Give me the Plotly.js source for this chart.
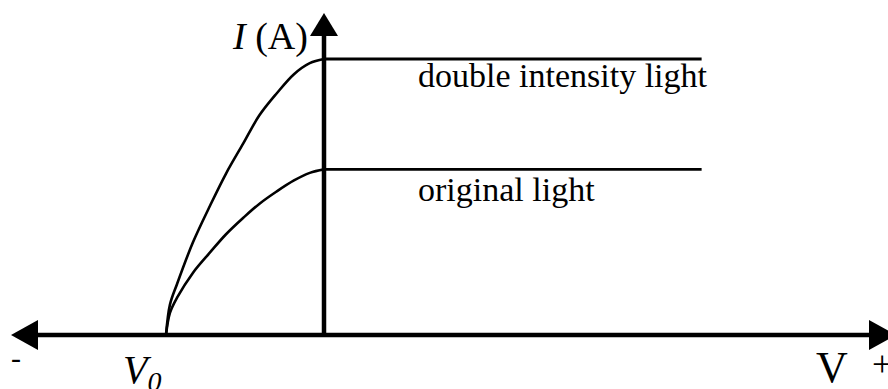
<!DOCTYPE html>
<html>
<head>
<meta charset="utf-8">
<script src="https://cdn.plot.ly/plotly-3.0.1.min.js"></script>
<style>
  html, body { margin: 0; padding: 0; background: #ffffff; }
  #chart { width: 888px; height: 389px; }
</style>
</head>
<body>
<div id="chart"></div>
<script>
// Photocurrent I versus applied voltage V for two light intensities.
// V in units of the stopping potential (V0 = -1), I in arbitrary units.
const vRise = [-1, -0.975, -0.93, -0.83, -0.72, -0.62, -0.51, -0.41, -0.30, -0.19, -0.09, 0];

const iOriginalRise = [0, 0.16, 0.27, 0.45, 0.60, 0.73, 0.85, 0.95, 1.04, 1.12, 1.175, 1.2];
const iDoubleRise   = [0, 0.22, 0.37, 0.67, 0.94, 1.17, 1.39, 1.59, 1.75, 1.89, 1.97, 2.0];

// Saturation plateau runs from V = 0 to this voltage
const vSaturationEnd = 2.39;

const curveLabels = ["original light", "double intensity light"];

// Axis ranges (one data unit = 158 px horizontally, 138 px vertically)
const xRange = [-2.0506, 3.5696];
const yRange = [-0.3913, 2.4275];
const pxX = (xRange[1] - xRange[0]) / 888;
const pxY = (yRange[1] - yRange[0]) / 389;

const ink = '#000000';
const serif = '"Liberation Serif", "Times New Roman", serif';

function rise(v, i) {
  return { x: v, y: i, mode: 'lines', type: 'scatter', hoverinfo: 'skip',
           line: { color: ink, width: 2.6, shape: 'spline', smoothing: 1, simplify: false } };
}
function plateau(i) {
  const last = i[i.length - 1];
  return { x: [0, vSaturationEnd], y: [last, last], mode: 'lines', type: 'scatter',
           hoverinfo: 'skip', line: { color: ink, width: 2.8 } };
}

const traces = [
  rise(vRise, iOriginalRise), plateau(iOriginalRise),
  rise(vRise, iDoubleRise), plateau(iDoubleRise)
];

// Axes drawn as thick lines with filled arrowheads
const leftTip = xRange[0] + 11 * pxX;
const rightTip = xRange[0] + 896 * pxX;
const topTip = yRange[1] - 13 * pxY;
const headLen = 27, headHalf = 15;
const vHeadLen = 23, vHeadHalf = 14;

const shapes = [
  { type: 'line', x0: leftTip + 10 * pxX, x1: rightTip - 10 * pxX, y0: 0, y1: 0,
    line: { color: ink, width: 4.5 } },
  { type: 'line', x0: 0, x1: 0, y0: 0, y1: topTip - 10 * pxY,
    line: { color: ink, width: 4.5 } },
  { type: 'path', fillcolor: ink, line: { width: 0 },
    path: `M${leftTip},0 L${leftTip + headLen * pxX},${headHalf * pxY} L${leftTip + headLen * pxX},${-headHalf * pxY} Z` },
  { type: 'path', fillcolor: ink, line: { width: 0 },
    path: `M${rightTip},0 L${rightTip - headLen * pxX},${headHalf * pxY} L${rightTip - headLen * pxX},${-headHalf * pxY} Z` },
  { type: 'path', fillcolor: ink, line: { width: 0 },
    path: `M0,${topTip} L${-vHeadHalf * pxX},${topTip - vHeadLen * pxY} L${vHeadHalf * pxX},${topTip - vHeadLen * pxY} Z` }
];

function px(x, y) { return { xref: 'paper', yref: 'paper', x: x / 888, y: 1 - y / 389 }; }

const annotations = [
  Object.assign(px(416, 76), { text: curveLabels[1], showarrow: false, xanchor: 'left', yanchor: 'middle',
    font: { family: serif, size: 34, color: ink } }),
  Object.assign(px(416, 189), { text: curveLabels[0], showarrow: false, xanchor: 'left', yanchor: 'middle',
    font: { family: serif, size: 34, color: ink } }),
  Object.assign(px(310, 37), { text: '<i>I</i> (A)', showarrow: false, xanchor: 'right', yanchor: 'middle',
    font: { family: serif, size: 38, color: ink } }),
  Object.assign(px(121, 372), { text: '<i>V</i><sub><i>0</i></sub>', showarrow: false, xanchor: 'left', yanchor: 'middle',
    font: { family: serif, size: 40, color: ink } }),
  Object.assign(px(832, 367), { text: 'V', showarrow: false, xanchor: 'center', yanchor: 'middle',
    font: { family: serif, size: 44, color: ink } }),
  Object.assign(px(882, 364), { text: '+', showarrow: false, xanchor: 'center', yanchor: 'middle',
    font: { family: serif, size: 36, color: ink } }),
  Object.assign(px(16, 357), { text: '-', showarrow: false, xanchor: 'center', yanchor: 'middle',
    font: { family: serif, size: 30, color: ink } })
];

const layout = {
  width: 888, height: 389,
  margin: { l: 0, r: 0, t: 0, b: 0 },
  paper_bgcolor: '#ffffff', plot_bgcolor: '#ffffff',
  showlegend: false,
  xaxis: { range: xRange, visible: false, fixedrange: true },
  yaxis: { range: yRange, visible: false, fixedrange: true },
  shapes: shapes,
  annotations: annotations
};

Plotly.newPlot('chart', traces, layout, { staticPlot: true, displayModeBar: false });
</script>
</body>
</html>
